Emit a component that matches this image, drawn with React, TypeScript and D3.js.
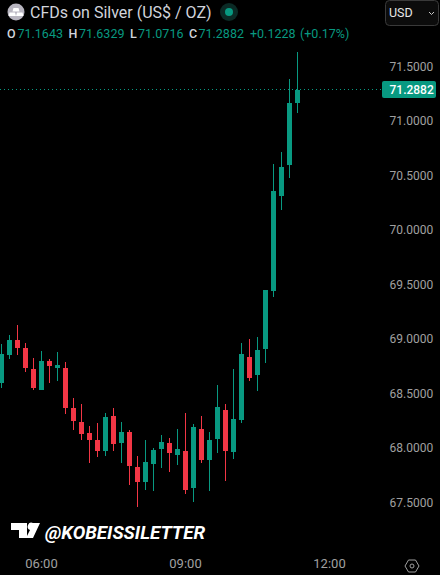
import { useEffect, useRef } from 'react'
import * as d3 from 'd3'

const UP = '#089981'
const DOWN = '#F23645'
const FONT = 'Roboto, "Open Sans", sans-serif'

// 10 minute bars
const barTimes = [
  '05:10', '05:20', '05:30', '05:40', '05:50', '06:00', '06:10', '06:20', '06:30', '06:40',
  '06:50', '07:00', '07:10', '07:20', '07:30', '07:40', '07:50', '08:00', '08:10', '08:20',
  '08:30', '08:40', '08:50', '09:00', '09:10', '09:20', '09:30', '09:40', '09:50', '10:00',
  '10:10', '10:20', '10:30', '10:40', '10:50', '11:00', '11:10', '11:20',
]
const opens = [
  68.596, 68.853, 68.991, 68.918, 68.725, 68.532, 68.798, 68.734, 68.734, 68.367,
  68.239, 68.138, 68.073, 67.972, 68.294, 68.046, 68.147, 67.826, 67.688, 67.853,
  67.991, 68.046, 67.936, 67.972, 67.633, 68.174, 67.89, 68.083, 68.349, 67.963,
  68.257, 68.835, 68.67, 68.908, 69.44, 70.312, 70.596, 71.1643,
]
const closes = [
  68.862, 68.991, 68.918, 68.734, 68.551, 68.798, 68.752, 68.761, 68.367, 68.248,
  68.128, 68.073, 67.972, 68.284, 68.037, 68.147, 67.835, 67.688, 67.872, 67.982,
  68.055, 67.954, 67.991, 67.615, 68.193, 67.89, 68.073, 68.376, 67.972, 68.266,
  68.862, 68.642, 68.899, 69.45, 70.358, 70.578, 71.165, 71.2882,
]
const highs = [
  68.954, 69.037, 69.128, 68.963, 68.826, 68.89, 68.817, 68.881, 68.789, 68.459,
  68.404, 68.202, 68.229, 68.321, 68.367, 68.239, 68.165, 67.927, 68.073, 68.0,
  68.119, 68.092, 68.174, 68.321, 68.22, 68.294, 68.147, 68.578, 68.404, 68.725,
  68.963, 69.0, 69.018, 69.45, 70.605, 70.716, 71.385, 71.6329,
]
const lows = [
  68.551, 68.817, 68.853, 68.697, 68.532, 68.532, 68.596, 68.615, 68.312, 68.165,
  68.073, 67.862, 67.917, 67.927, 67.972, 67.862, 67.661, 67.459, 67.615, 67.606,
  67.817, 67.78, 67.844, 67.578, 67.505, 67.862, 67.606, 67.954, 67.697, 67.899,
  68.229, 68.615, 68.523, 68.78, 69.385, 70.183, 70.477, 71.0716,
]
const priceTicks = [67.5, 68, 68.5, 69, 69.5, 70, 70.5, 71, 71.5]
const timeTicks = ['06:00', '09:00', '12:00']
const lastPrice = 71.2882
const legendItems = [
  { label: 'O', value: '71.1643', lx: 7, vx: 17.5 },
  { label: 'H', value: '71.6329', lx: 68.5, vx: 79 },
  { label: 'L', value: '71.0716', lx: 130, vx: 138 },
  { label: 'C', value: '71.2882', lx: 189, vx: 198.5 },
]

const parseTime = d3.utcParse('%H:%M')

export default function App() {
  const svgRef = useRef<SVGSVGElement | null>(null)

  useEffect(() => {
    const svg = d3.select(svgRef.current)
    svg.selectAll('*').remove()

    const xScale = d3.scaleUtc()
      .domain([parseTime('05:10')!, parseTime('12:00')!])
      .range([1.5, 329.5])
    // 109px per 1.00 on the price axis
    const yScale = d3.scaleLinear()
      .domain([67.5, 71.5])
      .range([502.5, 66.5])

    svg.append('rect').attr('width', 440).attr('height', 575).attr('fill', '#000')

    // Last price line
    svg.append('line')
      .attr('x1', 0)
      .attr('x2', 382)
      .attr('y1', Math.floor(yScale(lastPrice)) + 0.5)
      .attr('y2', Math.floor(yScale(lastPrice)) + 0.5)
      .attr('stroke', UP)
      .attr('stroke-width', 1)
      .attr('stroke-dasharray', '1,3')
      .attr('shape-rendering', 'crispEdges')

    // Candles
    const plot = svg.append('g').attr('shape-rendering', 'crispEdges')
    barTimes.forEach((t, i) => {
      const cx = xScale(parseTime(t)!)
      const color = closes[i] >= opens[i] ? UP : DOWN
      const top = Math.round(yScale(Math.max(opens[i], closes[i])))
      const bottom = Math.round(yScale(Math.min(opens[i], closes[i])))
      const high = Math.round(yScale(highs[i]))
      const low = Math.round(yScale(lows[i]))
      plot.append('rect')
        .attr('x', cx - 0.5)
        .attr('y', high)
        .attr('width', 1)
        .attr('height', low - high)
        .attr('fill', color)
      plot.append('rect')
        .attr('x', cx - 2.5)
        .attr('y', top)
        .attr('width', 5)
        .attr('height', Math.max(1, bottom - top))
        .attr('fill', color)
    })

    // Price axis
    const yAxis = d3.axisRight(yScale)
      .tickValues(priceTicks)
      .tickSize(0)
      .tickPadding(0)
      .tickFormat(d => d3.format('.4f')(d as number))
    const yG = svg.append('g').attr('transform', 'translate(389.5,0)').call(yAxis)
    yG.select('.domain').remove()
    yG.selectAll('text')
      .attr('fill', '#a0a0a0')
      .attr('font-family', FONT)
      .attr('font-size', '12px')

    // Last price tag
    svg.append('rect')
      .attr('x', 382)
      .attr('y', 81)
      .attr('width', 54)
      .attr('height', 17)
      .attr('rx', 2)
      .attr('fill', UP)
    svg.append('text')
      .attr('x', 389.5)
      .attr('y', 93.5)
      .attr('fill', '#fff')
      .attr('font-family', FONT)
      .attr('font-size', '12px')
      .attr('font-weight', 500)
      .text(d3.format('.4f')(lastPrice))

    // Time axis
    const xAxis = d3.axisBottom(xScale)
      .tickValues(timeTicks.map(t => parseTime(t)!))
      .tickSize(0)
      .tickPadding(0)
      .tickFormat(d => d3.utcFormat('%H:%M')(d as Date))
    const xG = svg.append('g').attr('transform', 'translate(-0.5,559)').call(xAxis)
    xG.select('.domain').remove()
    xG.selectAll('text')
      .attr('fill', '#a0a0a0')
      .attr('font-family', FONT)
      .attr('font-size', '13px')

    // Settings icon
    const gear = svg.append('g').attr('transform', 'translate(412,566)')
      .attr('fill', 'none').attr('stroke', '#a0a0a0').attr('stroke-width', 1)
    gear.append('path').attr('d', 'M-7,0 L-3.5,-6 L3.5,-6 L7,0 L3.5,6 L-3.5,6 Z')
    gear.append('circle').attr('r', 2)

    // Header
    const icon = svg.append('g').attr('transform', 'translate(16,12)')
    icon.append('circle').attr('r', 8.5).attr('fill', '#b8b5c0')
    icon.append('path').attr('d', 'M-2.5,-4 L2.5,-4 L3.5,-0.5 L-3.5,-0.5 Z').attr('fill', '#fff')
    icon.append('path').attr('d', 'M-6.5,0.5 L-1,0.5 L0,4 L-7.5,4 Z').attr('fill', '#fff')
    icon.append('path').attr('d', 'M1,0.5 L6.5,0.5 L7.5,4 L0,4 Z').attr('fill', '#fff')

    svg.append('text')
      .attr('x', 30)
      .attr('y', 18)
      .attr('fill', '#d1d4dc')
      .attr('font-family', FONT)
      .attr('font-size', '16px')
      .text('CFDs on Silver (US$ / OZ)')

    svg.append('circle').attr('cx', 229).attr('cy', 12).attr('r', 9).attr('fill', '#0b2b26')
    svg.append('circle').attr('cx', 229).attr('cy', 12).attr('r', 4).attr('fill', UP)

    const legend = svg.append('g')
      .attr('font-family', FONT)
      .attr('font-size', '12.5px')
    legendItems.forEach(item => {
      legend.append('text')
        .attr('x', item.lx)
        .attr('y', 38)
        .attr('fill', '#d1d4dc')
        .attr('font-weight', 500)
        .text(item.label)
      legend.append('text')
        .attr('x', item.vx)
        .attr('y', 38)
        .attr('fill', UP)
        .text(item.value)
    })
    legend.append('text').attr('x', 250).attr('y', 38).attr('fill', UP).text('+0.1228')
    legend.append('text').attr('x', 300).attr('y', 38).attr('fill', UP).text('(+0.17%)')

    // Currency select
    svg.append('rect')
      .attr('x', 385.5)
      .attr('y', 0.5)
      .attr('width', 53)
      .attr('height', 25)
      .attr('rx', 4)
      .attr('fill', '#0c0c0c')
      .attr('stroke', '#3a3a3a')
    svg.append('text')
      .attr('x', 389)
      .attr('y', 17)
      .attr('fill', '#e6e6e6')
      .attr('font-family', FONT)
      .attr('font-size', '12.5px')
      .text('USD')
    svg.append('path')
      .attr('d', 'M429,12 L431.5,14.5 L434,12')
      .attr('fill', 'none')
      .attr('stroke', '#c8c8c8')
      .attr('stroke-width', 1)

    // Watermark
    svg.append('path')
      .attr('d', 'M11,523 L27,523 L27,538 L19,538 L19,530 L11,530 Z M33,523 L40,523 L33,538 L26,538 L30,530 A3.5,3.5 0 1 1 33,523 Z')
      .attr('fill', '#fff')
    svg.append('text')
      .attr('x', 45)
      .attr('y', 539)
      .attr('fill', '#fff')
      .attr('font-family', FONT)
      .attr('font-size', '18.8px')
      .attr('font-style', 'italic')
      .attr('font-weight', 700)
      .text('@KOBEISSILETTER')
  }, [])

  return (
    <svg
      ref={svgRef}
      width={440}
      height={575}
      style={{ position: 'fixed', left: 0, top: 0, display: 'block' }}
    />
  )
}
